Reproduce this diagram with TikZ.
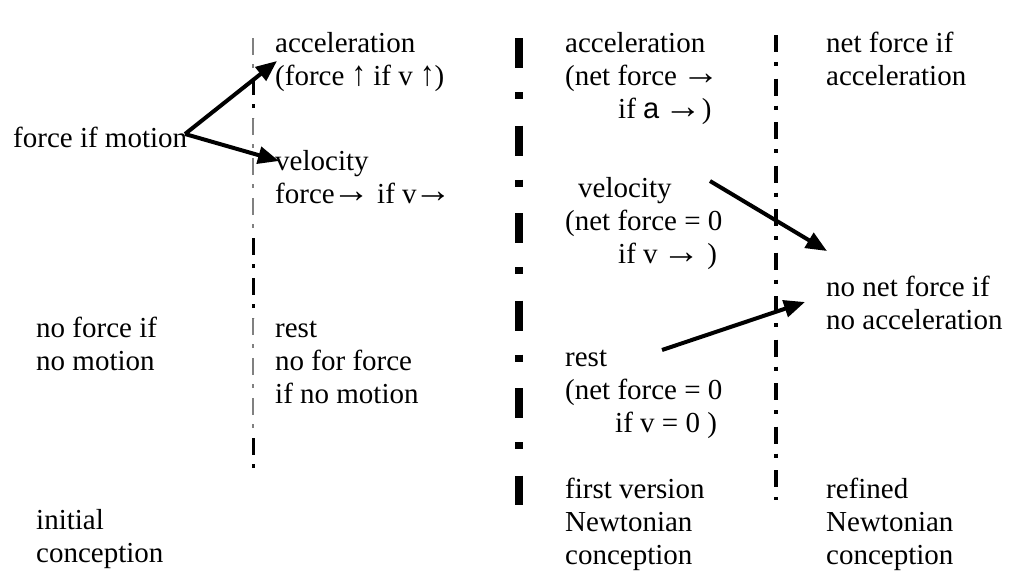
\documentclass[tikz,border=0pt]{standalone}
\usepackage{fontspec}
\usepackage{graphicx}
\setmainfont{Liberation Serif}
\newfontfamily\sansa{Liberation Sans}
\usetikzlibrary{arrows.meta}
\newcommand\rarr{\kern-2.5pt\raisebox{0.5pt}{\scalebox{1.3}[1.25]{→}}}
\newcommand\uarr{\raisebox{-0.5pt}{\scalebox{1}[1.2]{↑}}}
\begin{document}
\begin{tikzpicture}[x=1pt,y=-1pt,
  lbl/.style={anchor=base west, inner sep=0pt, font=\fontsize{29}{33.4}\selectfont},
  conn/.style={line width=4pt, -{Triangle[length=21pt,width=17pt]}},
  thinsep/.style={line width=1.2pt, black!50, dash pattern=on 17pt off 9pt on 4pt off 10pt},
  thicksep/.style={line width=3pt, black, dash pattern=on 17pt off 9pt on 4pt off 10pt},
  boldsep/.style={line width=8pt, black, dash pattern=on 30pt off 24pt on 7pt off 26.5pt},
  midsep/.style={line width=3.3pt, black, dash pattern=on 17pt off 10pt on 4pt off 12.5pt}]
\useasboundingbox (0,0) rectangle (1012,579);

% separators
\draw[thinsep] (253,38) -- (253,468);
\draw[thicksep] (253,78) -- (253,118);
\draw[thicksep] (253,238) -- (253,318);
\draw[thicksep] (253,438) -- (253,468);
\draw[boldsep] (519,38) -- (519,505);
\draw[midsep] (776,35) -- (776,500);

% column 1
\node[lbl] (fim) at (13,147) {force if motion};
\node[lbl] (nfm) at (36,337) {\vtop{\hbox{no force if}\hbox{no motion}}};
\node[lbl] (ini) at (36,529) {\vtop{\hbox{initial}\hbox{conception}}};

% column 2
\node[lbl] (acc2) at (275,52) {\vtop{\hbox{acceleration}\hbox{(force \uarr{} if v \uarr)}}};
\node[lbl] (vel2) at (275,170) {\vtop{\hbox{velocity}\hbox{force\rarr{} if v\rarr}}};
\node[lbl] (rest2) at (275,337) {\vtop{\hbox{rest}\hbox{no for force}\hbox{if no motion}}};

% column 3
\node[lbl] (acc3) at (565,52) {\vtop{\hbox{acceleration}\hbox{(net force \rarr}\hbox{\hspace*{53pt}if {\sansa a} \rarr)}}};
\node[lbl] (vel3) at (565,197) {\vtop{\hbox{\hspace*{13pt}velocity}\hbox{(net force = 0}\hbox{\hspace*{53pt}if v \rarr{} )}}};
\node[lbl] (rest3) at (565,366) {\vtop{\hbox{rest}\hbox{(net force = 0}\hbox{\hspace*{50pt}if v = 0 )}}};
\node[lbl] (fvn) at (565,498) {\vtop{\hbox{first version}\hbox{Newtonian}\hbox{conception}}};

% column 4
\node[lbl] (nfa) at (826,52) {\vtop{\hbox{net force if}\hbox{acceleration}}};
\node[lbl] (nnf) at (826,296) {\vtop{\hbox{no net force if}\hbox{no acceleration}}};
\node[lbl] (rnc) at (826,498) {\vtop{\hbox{refined}\hbox{Newtonian}\hbox{conception}}};

% connector end points
\coordinate (fimEnd) at (185,134);
\coordinate (accTip) at (277,61);
\coordinate (velTip) at (279,161);
\coordinate (vel3Out) at (710,181);
\coordinate (nnfIn1) at (827,251);
\coordinate (rest3Out) at (662,350);
\coordinate (nnfIn2) at (805,302);

\draw[conn] (fimEnd) -- (accTip);
\draw[conn] (fimEnd) -- (velTip);
\draw[conn] (vel3Out) -- (nnfIn1);
\draw[conn] (rest3Out) -- (nnfIn2);
\end{tikzpicture}
\end{document}
